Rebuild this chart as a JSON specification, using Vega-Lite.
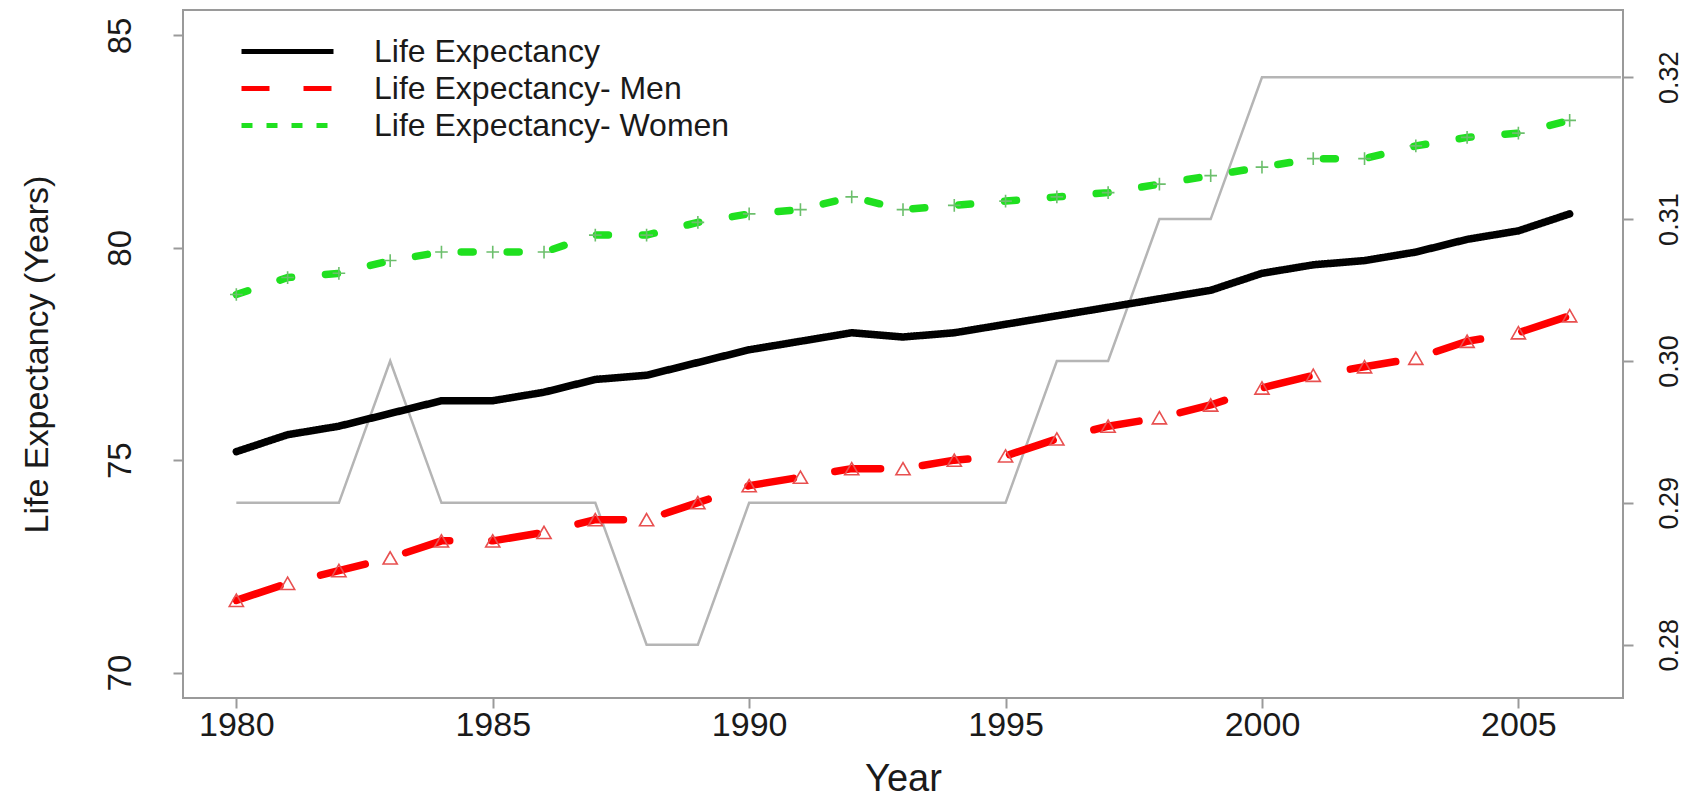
{
  "$schema": "https://vega.github.io/schema/vega-lite/v6.json",
  "width": 1440,
  "height": 688,
  "autosize": {"type": "none"},
  "padding": {"left": 183, "top": 10, "right": 84, "bottom": 100},
  "background": "white",
  "config": {
    "view": {"stroke": "#9a9a9a", "strokeWidth": 2},
    "font": "Liberation Sans",
    "axis": {"grid": false, "domain": false, "tickColor": "#9a9a9a", "tickWidth": 2, "tickSize": 10, "labelColor": "#1a1a1a", "titleColor": "#1a1a1a", "labelFont": "Liberation Sans", "titleFont": "Liberation Sans", "titleFontWeight": "normal"}
  },
  "datasets": {
    "life": [
      {"year": 1980, "series": "Life Expectancy", "value": 75.2},
      {"year": 1981, "series": "Life Expectancy", "value": 75.6},
      {"year": 1982, "series": "Life Expectancy", "value": 75.8},
      {"year": 1983, "series": "Life Expectancy", "value": 76.1},
      {"year": 1984, "series": "Life Expectancy", "value": 76.4},
      {"year": 1985, "series": "Life Expectancy", "value": 76.4},
      {"year": 1986, "series": "Life Expectancy", "value": 76.6},
      {"year": 1987, "series": "Life Expectancy", "value": 76.9},
      {"year": 1988, "series": "Life Expectancy", "value": 77.0},
      {"year": 1989, "series": "Life Expectancy", "value": 77.3},
      {"year": 1990, "series": "Life Expectancy", "value": 77.6},
      {"year": 1991, "series": "Life Expectancy", "value": 77.8},
      {"year": 1992, "series": "Life Expectancy", "value": 78.0},
      {"year": 1993, "series": "Life Expectancy", "value": 77.9},
      {"year": 1994, "series": "Life Expectancy", "value": 78.0},
      {"year": 1995, "series": "Life Expectancy", "value": 78.2},
      {"year": 1996, "series": "Life Expectancy", "value": 78.4},
      {"year": 1997, "series": "Life Expectancy", "value": 78.6},
      {"year": 1998, "series": "Life Expectancy", "value": 78.8},
      {"year": 1999, "series": "Life Expectancy", "value": 79.0},
      {"year": 2000, "series": "Life Expectancy", "value": 79.4},
      {"year": 2001, "series": "Life Expectancy", "value": 79.6},
      {"year": 2002, "series": "Life Expectancy", "value": 79.7},
      {"year": 2003, "series": "Life Expectancy", "value": 79.9},
      {"year": 2004, "series": "Life Expectancy", "value": 80.2},
      {"year": 2005, "series": "Life Expectancy", "value": 80.4},
      {"year": 2006, "series": "Life Expectancy", "value": 80.8},
      {"year": 1980, "series": "Life Expectancy- Men", "value": 71.7},
      {"year": 1981, "series": "Life Expectancy- Men", "value": 72.1},
      {"year": 1982, "series": "Life Expectancy- Men", "value": 72.4},
      {"year": 1983, "series": "Life Expectancy- Men", "value": 72.7},
      {"year": 1984, "series": "Life Expectancy- Men", "value": 73.1},
      {"year": 1985, "series": "Life Expectancy- Men", "value": 73.1},
      {"year": 1986, "series": "Life Expectancy- Men", "value": 73.3},
      {"year": 1987, "series": "Life Expectancy- Men", "value": 73.6},
      {"year": 1988, "series": "Life Expectancy- Men", "value": 73.6},
      {"year": 1989, "series": "Life Expectancy- Men", "value": 74.0},
      {"year": 1990, "series": "Life Expectancy- Men", "value": 74.4},
      {"year": 1991, "series": "Life Expectancy- Men", "value": 74.6},
      {"year": 1992, "series": "Life Expectancy- Men", "value": 74.8},
      {"year": 1993, "series": "Life Expectancy- Men", "value": 74.8},
      {"year": 1994, "series": "Life Expectancy- Men", "value": 75.0},
      {"year": 1995, "series": "Life Expectancy- Men", "value": 75.1},
      {"year": 1996, "series": "Life Expectancy- Men", "value": 75.5},
      {"year": 1997, "series": "Life Expectancy- Men", "value": 75.8},
      {"year": 1998, "series": "Life Expectancy- Men", "value": 76.0},
      {"year": 1999, "series": "Life Expectancy- Men", "value": 76.3},
      {"year": 2000, "series": "Life Expectancy- Men", "value": 76.7},
      {"year": 2001, "series": "Life Expectancy- Men", "value": 77.0},
      {"year": 2002, "series": "Life Expectancy- Men", "value": 77.2},
      {"year": 2003, "series": "Life Expectancy- Men", "value": 77.4},
      {"year": 2004, "series": "Life Expectancy- Men", "value": 77.8},
      {"year": 2005, "series": "Life Expectancy- Men", "value": 78.0},
      {"year": 2006, "series": "Life Expectancy- Men", "value": 78.4},
      {"year": 1980, "series": "Life Expectancy- Women", "value": 78.9},
      {"year": 1981, "series": "Life Expectancy- Women", "value": 79.3},
      {"year": 1982, "series": "Life Expectancy- Women", "value": 79.4},
      {"year": 1983, "series": "Life Expectancy- Women", "value": 79.7},
      {"year": 1984, "series": "Life Expectancy- Women", "value": 79.9},
      {"year": 1985, "series": "Life Expectancy- Women", "value": 79.9},
      {"year": 1986, "series": "Life Expectancy- Women", "value": 79.9},
      {"year": 1987, "series": "Life Expectancy- Women", "value": 80.3},
      {"year": 1988, "series": "Life Expectancy- Women", "value": 80.3},
      {"year": 1989, "series": "Life Expectancy- Women", "value": 80.6},
      {"year": 1990, "series": "Life Expectancy- Women", "value": 80.8},
      {"year": 1991, "series": "Life Expectancy- Women", "value": 80.9},
      {"year": 1992, "series": "Life Expectancy- Women", "value": 81.2},
      {"year": 1993, "series": "Life Expectancy- Women", "value": 80.9},
      {"year": 1994, "series": "Life Expectancy- Women", "value": 81.0},
      {"year": 1995, "series": "Life Expectancy- Women", "value": 81.1},
      {"year": 1996, "series": "Life Expectancy- Women", "value": 81.2},
      {"year": 1997, "series": "Life Expectancy- Women", "value": 81.3},
      {"year": 1998, "series": "Life Expectancy- Women", "value": 81.5},
      {"year": 1999, "series": "Life Expectancy- Women", "value": 81.7},
      {"year": 2000, "series": "Life Expectancy- Women", "value": 81.9},
      {"year": 2001, "series": "Life Expectancy- Women", "value": 82.1},
      {"year": 2002, "series": "Life Expectancy- Women", "value": 82.1},
      {"year": 2003, "series": "Life Expectancy- Women", "value": 82.4},
      {"year": 2004, "series": "Life Expectancy- Women", "value": 82.6},
      {"year": 2005, "series": "Life Expectancy- Women", "value": 82.7},
      {"year": 2006, "series": "Life Expectancy- Women", "value": 83.0}
    ],
    "ratio": [
      {"year": 1980, "ratio": 0.29},
      {"year": 1981, "ratio": 0.29},
      {"year": 1982, "ratio": 0.29},
      {"year": 1983, "ratio": 0.30},
      {"year": 1984, "ratio": 0.29},
      {"year": 1985, "ratio": 0.29},
      {"year": 1986, "ratio": 0.29},
      {"year": 1987, "ratio": 0.29},
      {"year": 1988, "ratio": 0.28},
      {"year": 1989, "ratio": 0.28},
      {"year": 1990, "ratio": 0.29},
      {"year": 1991, "ratio": 0.29},
      {"year": 1992, "ratio": 0.29},
      {"year": 1993, "ratio": 0.29},
      {"year": 1994, "ratio": 0.29},
      {"year": 1995, "ratio": 0.29},
      {"year": 1996, "ratio": 0.30},
      {"year": 1997, "ratio": 0.30},
      {"year": 1998, "ratio": 0.31},
      {"year": 1999, "ratio": 0.31},
      {"year": 2000, "ratio": 0.32},
      {"year": 2001, "ratio": 0.32},
      {"year": 2002, "ratio": 0.32},
      {"year": 2003, "ratio": 0.32},
      {"year": 2004, "ratio": 0.32},
      {"year": 2005, "ratio": 0.32},
      {"year": 2006, "ratio": 0.32},
      {"year": 2007, "ratio": 0.32}
    ]
  },
  "encoding": {
    "x": {
      "field": "year", "type": "quantitative",
      "scale": {"domain": [1978.96, 2007.04], "nice": false, "zero": false},
      "axis": {"values": [1980, 1985, 1990, 1995, 2000, 2005], "format": "d", "labelFontSize": 34, "labelBaseline": "alphabetic", "labelPadding": 27, "title": "Year", "titleFontSize": 38, "titleBaseline": "alphabetic", "titleAlign": "center", "titleX": 720, "titleY": 92}
    }
  },
  "layer": [
    {
      "data": {"name": "ratio"},
      "mark": {"type": "line", "color": "#b5b5b5", "strokeWidth": 2.5, "clip": true},
      "encoding": {
        "y": {
          "field": "ratio", "type": "quantitative",
          "scale": {"domain": [0.27624, 0.32474], "nice": false, "zero": false},
          "axis": {"orient": "right", "values": [0.28, 0.29, 0.30, 0.31, 0.32], "format": ".2f", "labelAngle": -90, "labelAlign": "center", "labelBaseline": "alphabetic", "labelFontSize": 27, "labelPadding": 44, "title": null}
        }
      }
    },
    {
      "data": {"name": "life"},
      "encoding": {
        "y": {
          "field": "value", "type": "quantitative",
          "scale": {"domain": [69.4, 85.6], "nice": false, "zero": false},
          "axis": {"values": [70, 75, 80, 85], "labelAngle": -90, "labelAlign": "center", "labelBaseline": "alphabetic", "labelFontSize": 33, "labelPadding": 43, "title": "Life Expectancy (Years)", "titleFontSize": 34, "titleAngle": -90, "titleAlign": "center", "titleBaseline": "alphabetic", "titleX": -136, "titleY": 344}
        }
      },
      "layer": [
        {
          "mark": {"type": "line", "strokeWidth": 7.5, "strokeCap": "round", "strokeJoin": "round"},
          "encoding": {
            "color": {
              "field": "series", "type": "nominal",
              "scale": {"domain": ["Life Expectancy", "Life Expectancy- Men", "Life Expectancy- Women"], "range": ["#000000", "#ff0000", "#1fe01f"]},
              "legend": null
            },
            "strokeDash": {
              "field": "series", "type": "nominal",
              "scale": {"domain": ["Life Expectancy", "Life Expectancy- Men", "Life Expectancy- Women"], "range": [[1, 0], [46, 42], [12, 34]]},
              "legend": null
            }
          }
        },
        {
          "transform": [{"filter": "false"}],
          "mark": {"type": "line", "strokeWidth": 5},
          "encoding": {
            "color": {
              "field": "series", "type": "nominal",
              "scale": {"domain": ["Life Expectancy", "Life Expectancy- Men", "Life Expectancy- Women"], "range": ["#000000", "#ff0000", "#1fe01f"]},
              "legend": {
                "orient": "none", "legendX": 56, "legendY": 23, "title": null,
                "symbolType": "stroke", "symbolSize": 8464, "symbolStrokeWidth": 5,
                "clipHeight": 37,
                "labelFontSize": 32, "labelFont": "Liberation Sans", "labelColor": "#1a1a1a",
                "labelOffset": 38, "rowPadding": 0, "padding": 0, "labelLimit": 700
              }
            },
            "strokeDash": {
              "field": "series", "type": "nominal",
              "scale": {"domain": ["Life Expectancy", "Life Expectancy- Men", "Life Expectancy- Women"], "range": [[1, 0], [28, 34], [11, 14]]},
              "legend": null
            }
          }
        },
        {
          "transform": [{"filter": "datum.series === 'Life Expectancy- Men'"}],
          "mark": {"type": "point", "shape": "triangle-up", "filled": false, "stroke": "#e85050", "strokeWidth": 1.6, "size": 200, "opacity": 1}
        },
        {
          "transform": [{"filter": "datum.series === 'Life Expectancy- Women'"}],
          "mark": {"type": "point", "shape": "M-1,0H1M0,-1V1", "filled": false, "stroke": "#6cbf6c", "strokeWidth": 1.6, "size": 160, "opacity": 1}
        }
      ],
      "resolve": {"scale": {"color": "independent", "strokeDash": "independent"}}
    }
  ],
  "resolve": {"scale": {"y": "independent", "color": "independent", "strokeDash": "independent"}}
}
